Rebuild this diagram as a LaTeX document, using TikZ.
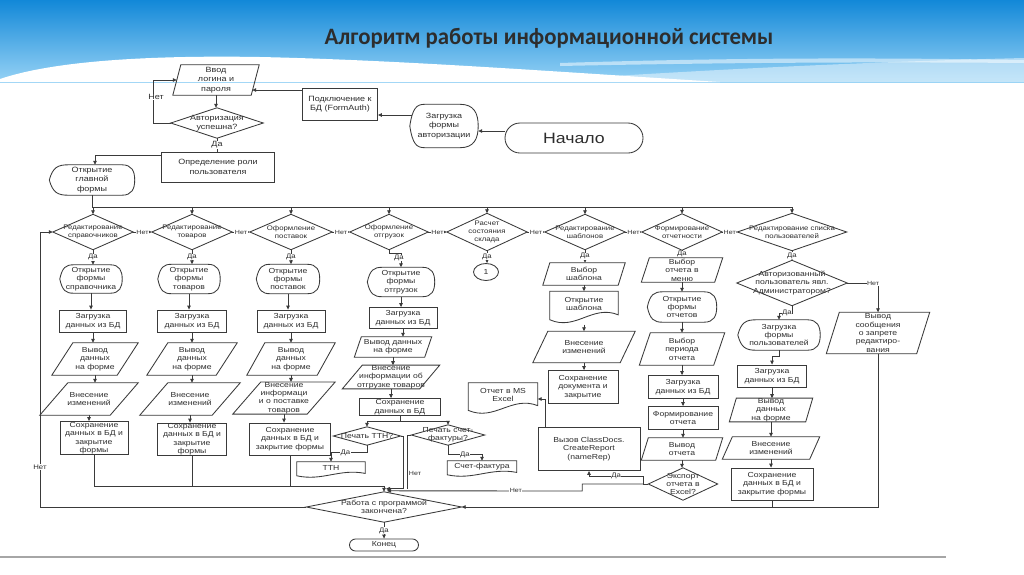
\documentclass[tikz,border=0pt]{standalone}
\usepackage{fontspec}
\setmainfont{Liberation Sans}
\newfontfamily\dfont[FakeStretch=1.18]{Liberation Sans}
\newfontfamily\tfont[FakeStretch=0.97]{Carlito}
\usetikzlibrary{arrows.meta,calc,shapes.geometric}
\definecolor{lnc}{RGB}{58,58,58}
\definecolor{txc}{RGB}{45,45,45}
\definecolor{bandtop}{RGB}{18,136,216}
\definecolor{bandbot}{RGB}{150,210,245}
\definecolor{titlec}{RGB}{45,45,45}
\tikzset{
  ln/.style={draw=lnc, line width=0.85pt},
  arr/.style={ln, -{Triangle[length=4pt,width=3.6pt]}},
  blk/.style={inner sep=0pt, align=center, text=txc, font=\dfont\fontsize{7.3}{8.4}\selectfont},
  dtx/.style={blk, font=\dfont\fontsize{6.6}{8}\selectfont},
  ttx/.style={blk, font=\dfont\fontsize{7.6}{9.4}\selectfont},
  lbl/.style={fill=white, inner sep=0.5pt, text=txc, font=\dfont\fontsize{6}{7}\selectfont},
  lbb/.style={lbl, font=\dfont\fontsize{6.6}{7}\selectfont},
  lbt/.style={lbl, font=\dfont\fontsize{7.6}{8}\selectfont},
}
% [style]{name}{x}{y}{w}{h}{text}
\newcommand\mkbox[7][blk]{\node[#1,draw=lnc,line width=0.85pt,minimum width=#5,minimum height=#6] (#2) at (#3,#4) {#7};}
\newcommand\mkdia[7][dtx]{\node[#1,minimum width=#5,minimum height=#6] (#2) at (#3,#4) {#7};
  \draw[ln] (#2.west) -- (#2.north) -- (#2.east) -- (#2.south) -- cycle;}
% [style]{name}{x}{y}{w}{h}{slant}{text}
\newcommand\mkpar[8][blk]{\node[#1,minimum width=#5,minimum height=#6] (#2) at (#3,#4) {#8};
  \draw[ln] ($(#2.north west)+(#7,0)$) -- (#2.north east) -- ($(#2.south east)+(-#7,0)$) -- (#2.south west) -- cycle;}
\newcommand\mkdisp[7][blk]{\node[#1,minimum width=#5,minimum height=#6] (#2) at (#3,#4) {#7};
  \draw[ln] (#2.west) .. controls ($(#2.west)+(0.04*#5,-0.42*#6)$) and ($(#2.north west)+(0.1*#5,0)$) .. ($(#2.north west)+(0.22*#5,0)$)
   -- ($(#2.north east)+(-0.42*#6,0)$) .. controls ($(#2.north east)+(-0.1*#6,0)$) and ($(#2.east)+(0,-0.3*#6)$) .. (#2.east)
   .. controls ($(#2.east)+(0,0.3*#6)$) and ($(#2.south east)+(-0.1*#6,0)$) .. ($(#2.south east)+(-0.42*#6,0)$)
   -- ($(#2.south west)+(0.22*#5,0)$) .. controls ($(#2.south west)+(0.1*#5,0)$) and ($(#2.west)+(0.04*#5,0.42*#6)$) .. (#2.west) -- cycle;}
\newcommand\mkdoc[7][blk]{\node[minimum width=#5,minimum height=#6,inner sep=0pt] (#2) at (#3,#4) {};
  \draw[ln] (#2.north west) -- (#2.north east) -- ($(#2.south east)+(0,-0.3*#6)$) .. controls ($(#2.south east)+(-0.38*#5,-0.62*#6)$) and ($(#2.south west)+(0.38*#5,0.2*#6)$) .. ($(#2.south west)+(0,-0.15*#6)$) -- cycle;
  \node[#1] (#2-t) at ($(#2)+(0,-0.12*#6)$) {#7};}
\newcommand\dnarr[2]{\draw[arr] (#1.south) -- (#1.south |- #2.north);}
\begin{document}
\begin{tikzpicture}[x=1pt,y=-1pt]
\useasboundingbox (0,0) rectangle (1024,574);
\fill[white] (0,0) rectangle (1024,574);
% header band
\shade[top color=bandtop,bottom color=bandbot] (0,0) rectangle (1024,82);
\fill[white] (0,82) -- (0,79) .. controls (50,62) and (140,55) .. (260,57) .. controls (400,60) and (560,72) .. (720,82) -- cycle;
\fill[white,opacity=0.45] (520,82) .. controls (700,70) and (860,62) .. (1024,58) -- (1024,82) -- cycle;
\fill[white,opacity=0.5] (560,63) .. controls (750,57) and (900,58) .. (1024,60) -- (1024,63) .. controls (900,62) and (750,62) .. (560,66) -- cycle;
\node[text=titlec, font=\tfont\bfseries\fontsize{23.5}{28}\selectfont] (title) at (549,38) {Алгоритм работы информационной системы};
\draw[black!35, line width=1.3pt] (0,557) -- (946,557);

% ---------- top part ----------
\mkpar[ttx]{vvod}{216}{80}{86}{30}{8}{Ввод\\логина и\\пароля}
\mkdia[ttx]{avt}{217}{123}{92}{30}{Авторизация\\успешна?}
\mkbox[ttx]{opr}{218}{167}{113}{30}{Определение роли\\пользователя}
\mkbox[ttx]{podkl}{340}{104}{75}{32}{Подключение к\\БД (FormAuth)}
\mkdisp[ttx]{zagr}{444}{126}{68}{43}{Загрузка\\формы\\авторизации}
\node[blk, draw=lnc, line width=0.85pt, rounded corners=15pt, minimum width=138, minimum height=30, font=\dfont\fontsize{15}{16}\selectfont] (nachalo) at (574,138) {Начало};
\mkdisp[ttx]{glav}{92}{180}{85}{30}{Открытие\\главной\\формы}

% ---------- diamonds row ----------
\mkdia{d1}{93}{232}{80}{35}{Редактирование\\справочников}
\mkdia{d2}{192}{232}{80}{35}{Редактирование\\товаров}
\mkdia{d3}{291}{232}{82}{35}{Оформление\\поставок}
\mkdia{d4}{389}{232}{78}{35}{Оформление\\отгрузок}
\mkdia{d5}{487}{232}{80}{37}{Расчет\\состояния\\склада}
\mkdia{d6}{585}{232}{80}{35}{Редактирование\\шаблонов}
\mkdia{d7}{682}{232}{80}{36}{Формирование\\отчетности}
\mkdia{d8}{792}{232}{109}{37}{Редактирование списка\\пользователей}

% ---------- column 1 ----------
\mkdisp{o1}{91}{279}{62}{28}{Открытие\\формы\\справочника}
\mkbox{z1}{93}{321}{67}{22}{Загрузка\\данных из БД}
\mkpar{v1}{95}{359}{86}{32}{21}{Вывод\\данных\\на форме}
\mkpar{i1}{89}{399}{98}{32}{28}{Внесение\\изменений}
\mkbox{s1}{94}{438}{68}{33}{Сохранение\\данных в БД и\\закрытие\\формы}
% ---------- column 2 ----------
\mkdisp{o2}{189}{279}{62}{29}{Открытие\\формы\\товаров}
\mkbox{z2}{192}{321}{69}{22}{Загрузка\\данных из БД}
\mkpar{v2}{192}{359}{90}{32}{21}{Вывод\\данных\\на форме}
\mkpar{i2}{190}{399}{100}{32}{28}{Внесение\\изменений}
\mkbox{s2}{192}{439}{69}{32}{Сохранение\\данных в БД и\\закрытие\\формы}
% ---------- column 3 ----------
\mkdisp{o3}{288}{279}{63}{29}{Открытие\\формы\\поставок}
\mkbox{z3}{291}{321}{68}{22}{Загрузка\\данных из БД}
\mkpar{v3}{291}{359}{88}{32}{18}{Вывод\\данных\\на форме}
\mkpar{i3}{284}{398}{102}{30}{28}{Внесение\\информаци\\и о поставке\\товаров}
\mkbox{s3}{290}{439}{81}{32}{Сохранение\\данных в БД и\\закрытие формы}
% ---------- column 4 ----------
\mkdisp{o4}{401}{282}{67}{29}{Открытие\\формы\\отгрузок}
\mkbox{z4}{403}{318}{68}{21}{Загрузка\\данных из БД}
\mkpar{v4}{393}{347}{77}{20}{7}{Вывод данных\\на форме}
\mkpar{i4}{391}{377}{97}{21}{20}{Внесение\\информации об\\отгрузке товаров}
\mkbox{c4}{400}{407}{81}{17}{Сохранение\\данных в БД}
\mkdia[blk]{ttn}{367}{436}{67}{18}{Печать ТТН?}
\mkdia[blk]{sf}{448}{435}{73}{20}{Печать счет-\\фактуры?}
\mkdoc{ttndoc}{331}{470}{68}{16}{ТТН}
\mkdoc{sfdoc}{482}{469}{69}{16}{Счет-фактура}
% ---------- column 5 ----------
\node[blk, draw=lnc, line width=0.85pt, ellipse, minimum width=25, minimum height=17] (c1) at (486,272) {1};
% ---------- column 6 ----------
\mkpar{vs}{584}{274}{82}{22}{7}{Выбор\\шаблона}
\mkdoc{os}{584}{308}{68}{33}{Открытие\\шаблона}
\mkpar{ie6}{584}{347}{102}{31}{15}{Внесение\\изменений}
\mkbox{ss}{583}{387}{70}{33}{Сохранение\\документа и\\закрытие}
\mkbox{call}{589}{449}{102}{43}{Вызов ClassDocs.\\CreateReport\\(nameRep)}
\mkdoc{xl}{503}{399}{69}{32}{Отчет в MS\\Excel}
% ---------- column 7 ----------
\mkpar{vo}{682}{270}{81}{24}{8}{Выбор\\отчета в\\меню}
\mkdisp{of}{682}{307}{69}{30}{Открытие\\формы\\отчетов}
\mkpar{vp}{682}{349}{85}{32}{11}{Выбор\\периода\\отчета}
\mkbox{z7}{683}{387}{70}{23}{Загрузка\\данных из БД}
\mkbox{f7}{683}{418}{70}{23}{Формирование\\отчета}
\mkpar{w7}{682}{449}{81}{22}{7}{Вывод\\отчета}
\mkdia[blk]{ex}{683}{484}{69}{32}{Экспорт\\отчета в\\Excel?}
% ---------- column 8 ----------
\mkdia[blk]{adm}{792}{283}{110}{45}{Авторизованный\\пользователь явл.\\Администратором?}
\mkpar{msg}{878}{333}{103}{41}{13}{Вывод\\сообщения\\о запрете\\редактиро-\\вания}
\mkdisp{ufp}{779}{335}{82}{30}{Загрузка\\формы\\пользователей}
\mkbox{z8}{772}{376}{69}{22}{Загрузка\\данных из БД}
\mkpar{v8}{771}{410}{83}{23}{7}{Вывод\\данных\\на форме}
\mkpar{i8}{771}{448}{97}{22}{10}{Внесение\\изменений}
\mkbox{s8}{772}{484}{82}{32}{Сохранение\\данных в БД и\\закрытие формы}
% ---------- bottom ----------
\mkdia[blk]{fin}{384}{507}{155}{30}{Работа с программой\\закончена?}
\node[blk, draw=lnc, line width=0.85pt, rounded corners=6pt, minimum width=69, minimum height=12] (konec) at (384,545) {Конец};

% ================= connectors =================
% top
\draw[arr] ([yshift=7pt]nachalo.west) -- ([yshift=7pt]nachalo.west -| zagr.east);
\draw[arr] ([yshift=11pt,xshift=2pt]zagr.west) -- ([yshift=11pt]zagr.west -| podkl.east);
\coordinate (p1) at ([yshift=14pt]podkl.west);
\coordinate (vvR) at ([xshift=-7pt]vvod.east);
\draw[arr] (p1) -- (p1 -| vvR);
\draw[arr] (vvod.south) -- (vvod.south |- avt.north);
\draw[arr] (avt.west) -- ++(-17,0) |- ([xshift=4pt]vvod.west);
\node[lbt] (lnet0) at (156,97) {Нет};
\draw[ln] (avt.south) -- node[lbt] (lda0) {Да} (avt.south |- opr.north);
\draw[arr] ([yshift=12pt]opr.west) -| ([xshift=3pt]glav.north);
% main bus
\coordinate (busy) at (0,207);
\draw[ln] (glav.south) |- (busy -| d8.north);
\foreach \d in {d1,d2,d3,d4,d5,d6,d7,d8} {\draw[arr] (busy -| \d.north) -- (\d.north);}
\draw[arr] (d1.east) -- node[lbl] (n12) {Нет} (d2.west);
\draw[arr] (d2.east) -- node[lbl] (n23) {Нет} (d3.west);
\draw[arr] (d3.east) -- node[lbl] (n34) {Нет} (d4.west);
\draw[arr] (d4.east) -- node[lbl] (n45) {Нет} (d5.west);
\draw[arr] (d5.east) -- node[lbl] (n56) {Нет} (d6.west);
\draw[arr] (d6.east) -- node[lbl] (n67) {Нет} (d7.west);
\draw[arr] (d7.east) -- node[lbl] (n78) {Нет} (d8.west);
% left return loop
\coordinate (lx) at (40,0);
\draw[arr] (fin.west) -| (lx |- d1.west) -- (d1.west);
\node[lbb] (lnetL) at (40,467) {Нет};
% columns 1-3
\draw[arr] (d1.south) -- node[lbb] (y1) {Да} (d1.south |- o1.north);
\dnarr{o1}{z1}\dnarr{z1}{v1}\dnarr{v1}{i1}\dnarr{i1}{s1}
\draw[arr] (d2.south) -- node[lbb] (y2) {Да} (d2.south |- o2.north);
\dnarr{o2}{z2}\dnarr{z2}{v2}\dnarr{v2}{i2}\dnarr{i2}{s2}
\draw[arr] (d3.south) -- node[lbb] (y3) {Да} (d3.south |- o3.north);
\dnarr{o3}{z3}\dnarr{z3}{v3}\dnarr{v3}{i3}\dnarr{i3}{s3}
\coordinate (by) at ([yshift=5pt]fin.north);
\draw[arr] (s1.south) |- (by) -- (fin.north);
\draw[ln] (s2.south) -- (s2.south |- by);
\draw[ln] (s3.south) -- (s3.south |- by);
% column 4
\draw[arr] (d4.south) -- ++(0,4) -| (o4.north);
\node[lbb] (y4) at (399,258) {Да};
\dnarr{o4}{z4}\dnarr{z4}{v4}\dnarr{v4}{i4}\dnarr{i4}{c4}
\coordinate (sp4) at ($(c4.south)+(0,5)$);
\draw[ln] (c4.south) -- (sp4);
\draw[arr] (sp4) -| (ttn.north);
\draw[arr] (sp4) -| (sf.north);
\draw[arr] (ttn.south) |- node[lbb,pos=0.8] (yttn) {Да} ($(ttndoc.north)+(0,-9)$) -- (ttndoc.north);
\draw[arr] (sf.south) |- node[lbb,pos=0.75] (ysf) {Да} ($(sfdoc.north)+(0,-6)$) -- (sfdoc.north);
\draw[arr] (ttn.east) -- ++(3,0) |- ([xshift=2pt,yshift=3pt]fin.north);
\coordinate (mj) at ($(fin.north)+(23,-3)$);
\draw[ln] (sf.west) -| (mj);
\node[lbl] (lnet4) at (415,473) {Нет};
% column 5
\draw[arr] (d5.south) -- node[lbb] (y5) {Да} (d5.south |- c1.north);
% column 6
\draw[arr] (d6.south) -- node[lbb] (y6) {Да} (d6.south |- vs.north);
\dnarr{vs}{os}\dnarr{os}{ie6}\dnarr{ie6}{ss}
\draw[arr] ([xshift=-44pt]call.north) |- (xl.east);
% column 7
\draw[arr] (d7.south) -- node[lbb] (y7) {Да} (d7.south |- vo.north);
\dnarr{vo}{of}\dnarr{of}{vp}\dnarr{vp}{z7}\dnarr{z7}{f7}\dnarr{f7}{w7}\dnarr{w7}{ex}
\coordinate (exj) at ($(ex.west)+(-5,0)$);
\draw[ln] (ex.west) -- (exj);
\draw[arr] (exj) |- node[lbb,pos=0.75] (yex) {Да} ($(call.south)+(0,5)$) -- (call.south);
\draw[arr] (exj) -- ++(-61,0) -- ++(0,7) -- node[lbl,pos=0.34] (nex) {Нет} ([xshift=3pt,yshift=1pt]fin.north);
% column 8
\draw[arr] (d8.south) -- node[lbb] (y8) {Да} (d8.south |- adm.north);
\draw[arr] (adm.east) -| node[lbl,pos=0.42] (lnet8) {Нет} (msg.north);
\draw[arr] (msg.south) |- (fin.east);
\draw[arr] (adm.south) -- ++(0,8) -| (ufp.north);
\node[lbb] (y8b) at (787,313) {Да};
\draw[arr] (ufp.south) -- ++(0,6) -| (z8.north);
\dnarr{z8}{v8}\dnarr{v8}{i8}\dnarr{i8}{s8}
\draw[ln] (s8.south) -- (s8.south |- fin.east);
% end
\draw[arr] (fin.south) -- node[lbb] (yfin) {Да} (konec.north);
\end{tikzpicture}
\end{document}
